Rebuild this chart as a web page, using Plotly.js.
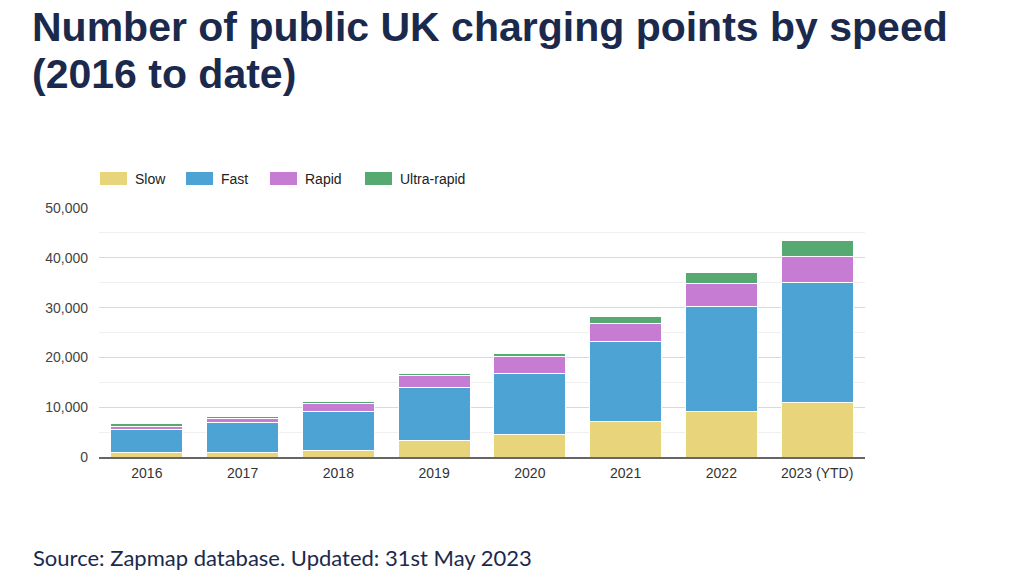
<!DOCTYPE html>
<html>
<head>
<meta charset="utf-8">
<script src="https://cdn.plot.ly/plotly-3.0.1.min.js"></script>
<style>
html,body{margin:0;padding:0;background:#fff;}
#chart{width:1024px;height:576px;}
</style>
</head>
<body>
<div id="chart"></div>
<script>
const years = ["2016","2017","2018","2019","2020","2021","2022","2023 (YTD)"];
const slow = [950, 950, 1300, 3300, 4550, 7150, 9050, 10850];
const fast = [4500, 6000, 7900, 10650, 12300, 15950, 21150, 24250];
const rapid = [770, 870, 1600, 2350, 3250, 3750, 4700, 5100];
const ultraRapid = [420, 400, 280, 540, 600, 1300, 2150, 3200];
const seriesNames = ["Slow", "Fast", "Rapid", "Ultra-rapid"];
const seriesColors = ["#e8d47b", "#4da3d3", "#c77cd4", "#56a971"];
const yTicks = [0, 10000, 20000, 30000, 40000, 50000];
const yTickText = ["0", "10,000", "20,000", "30,000", "40,000", "50,000"];
const titleLines = ["Number of public UK charging points by speed", "(2016 to date)"];
const sourceText = "Source: Zapmap database. Updated: 31st May 2023";

const navy = "#1b2a4c";
const seriesValues = [slow, fast, rapid, ultraRapid];
const data = seriesNames.map((name, i) => ({
  type: "bar", name: name, x: years, y: seriesValues[i],
  marker: {color: seriesColors[i], line: {color: "#ffffff", width: 1}},
  hoverinfo: "none"
}));

const W = 1024, H = 576, ML = 99, MR = 159, MT = 208, MB = 119;
const plotW = W - ML - MR, plotH = H - MT - MB;
function px(x){ return (x - ML) / plotW; }
function py(y){ return (H - MB - y) / plotH; }

const titleHtml = titleLines.map(l => '<span style="font-size:41px">' + l + '</span>').join("<br>");
const annotations = [
  {text: titleHtml, x: px(30), y: py(2), xanchor: "left", yanchor: "top",
   font: {family: "Liberation Sans, Arial, sans-serif", size: 36.5, color: navy, weight: 700}},
  {text: sourceText, x: px(31), y: py(557), xanchor: "left", yanchor: "middle",
   font: {family: "Lato, sans-serif", size: 22, color: navy}}
];
const shapes = [];
// manual legend (wide swatches like the reference)
const legendSwatchX = [100, 186, 270, 365];
seriesNames.forEach((name, i) => {
  const x0 = legendSwatchX[i];
  shapes.push({type: "rect", xref: "paper", yref: "paper",
    x0: px(x0), x1: px(x0 + 27), y0: py(185), y1: py(172),
    fillcolor: seriesColors[i], line: {width: 0}});
  annotations.push({text: name, x: px(x0 + 33), y: py(179), xanchor: "left", yanchor: "middle",
    font: {family: "Liberation Sans, Arial, sans-serif", size: 14, color: "#222"}});
});
annotations.forEach(a => { a.xref = "paper"; a.yref = "paper"; a.showarrow = false; a.align = "left"; });

const layout = {
  width: W, height: H,
  paper_bgcolor: "#ffffff", plot_bgcolor: "#ffffff",
  barmode: "stack", bargap: 0.25,
  margin: {l: ML, r: MR, t: MT, b: MB},
  font: {family: "Liberation Sans, Arial, sans-serif", size: 14, color: "#444"},
  showlegend: false,
  xaxis: {type: "category", showgrid: false, showline: true, linecolor: "#666", linewidth: 1.5,
    ticks: "", ticklabelstandoff: 3, tickfont: {size: 14, color: "#333"}, fixedrange: true},
  yaxis: {range: [0, 50000], tickvals: yTicks, ticktext: yTickText,
    showgrid: true, gridcolor: "#d9d9d9", gridwidth: 1,
    minor: {dtick: 5000, showgrid: true, gridcolor: "#efefef", gridwidth: 1},
    zeroline: false, ticks: "", ticklabelstandoff: 10,
    tickfont: {size: 14, color: "#444"}, fixedrange: true},
  annotations: annotations,
  shapes: shapes
};
Plotly.newPlot("chart", data, layout, {staticPlot: true, displayModeBar: false});
</script>
</body>
</html>
